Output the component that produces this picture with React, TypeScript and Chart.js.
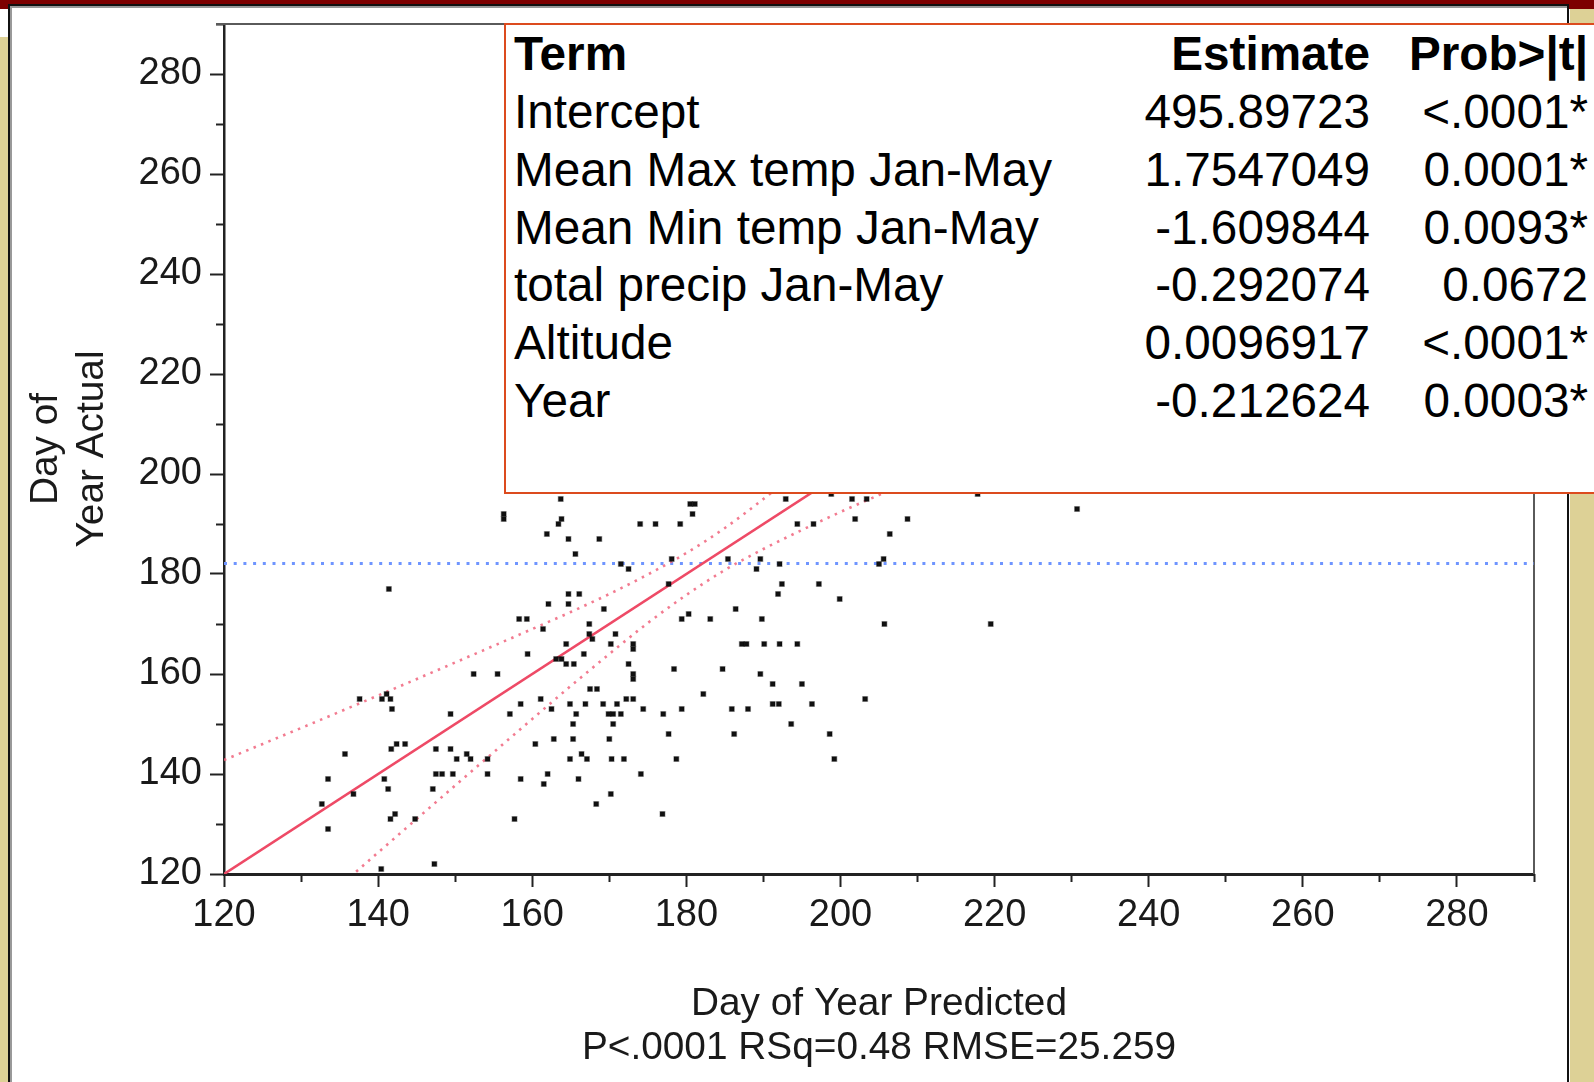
import React, { useEffect, useRef } from 'react';
import { Chart, registerables } from 'chart.js';

Chart.register(...registerables);

// ---------- data ----------
const predictedX = [
  156.3, 156.3, 163.7, 163.8, 163.4, 161.9, 164.7, 168.7, 165.6, 171.5,
  172.5, 174.0, 176.0, 179.2, 180.5, 181.1, 180.8, 178.1, 177.7, 179.4,
  180.3, 141.4, 164.7, 166.1, 164.7, 162.1, 169.3, 158.3, 159.3, 161.4,
  167.4, 167.4, 167.8, 170.8, 170.2, 173.1, 164.4, 173.1, 159.4, 163.1,
  163.8, 164.4, 165.4, 166.7, 172.5, 173.1, 173.1, 152.4, 155.5, 178.4,
  137.6, 140.5, 141.1, 141.6, 141.8, 161.1, 172.2, 173.1, 167.5, 168.4,
  158.5, 164.9, 166.9, 169.2, 171.0, 162.5, 174.4, 179.4, 149.4, 157.1,
  165.7, 169.9, 170.5, 171.5, 177.0, 165.3, 170.5, 177.7, 142.4, 143.5,
  141.7, 147.5, 149.4, 162.8, 165.3, 170.0, 160.4, 135.7, 150.2, 151.5,
  152.0, 154.2, 164.9, 166.4, 167.1, 170.3, 171.9, 178.7, 133.5, 140.8,
  141.3, 147.5, 148.3, 149.7, 154.2, 162.0, 174.1, 158.5, 166.0, 161.5,
  136.8, 147.1, 170.2, 132.7, 168.3, 141.6, 142.2, 144.8, 133.5, 157.7,
  176.9, 140.4, 147.3, 185.4, 189.1, 189.6, 192.1, 192.9, 194.4, 196.5,
  198.8, 201.5, 201.9, 203.4, 206.4, 208.7, 205.0, 205.6, 217.8, 230.7,
  219.5, 205.7, 192.4, 191.9, 197.2, 199.9, 186.4, 189.8, 183.1, 187.2,
  187.8, 190.1, 192.1, 194.4, 184.7, 189.6, 191.2, 195.0, 182.2, 191.2,
  192.0, 196.3, 203.2, 185.9, 188.0, 193.6, 186.2, 198.6, 199.2,
];
const actualY = [
  192, 191, 195, 191, 190, 188, 187, 187, 184, 182,
  181, 190, 190, 190, 194, 194, 192, 183, 178, 171,
  172, 177, 176, 176, 174, 174, 173, 171, 171, 169,
  170, 168, 167, 168, 166, 166, 166, 165, 164, 163,
  163, 162, 162, 164, 162, 160, 159, 160, 160, 161,
  155, 155, 156, 155, 153, 155, 155, 155, 157, 157,
  154, 154, 154, 154, 154, 153, 153, 153, 152, 152,
  152, 152, 152, 152, 152, 150, 150, 148, 146, 146,
  145, 145, 145, 147, 147, 147, 146, 144, 143, 144,
  143, 143, 143, 144, 143, 143, 143, 143, 139, 139,
  137, 140, 140, 140, 140, 140, 140, 139, 139, 138,
  136, 137, 136, 134, 134, 131, 132, 131, 129, 131,
  132, 121, 122, 183, 181, 183, 182, 195, 190, 190,
  196, 195, 191, 195, 188, 191, 182, 183, 196, 193,
  170, 170, 178, 176, 178, 175, 173, 171, 171, 166,
  166, 166, 166, 166, 161, 160, 158, 158, 156, 154,
  154, 154, 155, 153, 153, 150, 148, 148, 143,
];

const fitLineX = [120, 290];
const fitLineY = [120, 290];

const bandX = [120, 130, 140, 150, 160, 165, 170, 175, 180, 185, 190, 195, 200, 205, 210, 220, 230, 240, 250, 260, 270, 280, 290];
const bandUpper = [142.8, 149.2, 155.7, 162.3, 169.0, 172.4, 176.0, 179.9, 184.2, 189.2, 195.0, 201.2, 207.6, 214.2, 220.8, 234.2, 247.7, 261.2, 274.8, 288.3, 301.9, 315.5, 329.0];
const bandLower = [97.2, 110.8, 124.3, 137.7, 151.0, 157.6, 164.0, 170.2, 175.8, 180.8, 185.0, 188.8, 192.4, 195.8, 199.2, 205.8, 212.3, 218.8, 225.3, 231.7, 238.1, 244.6, 251.0];

const meanActual = 182.1;
const meanLineX = [120, 290];

const axisMin = 120;
const axisMax = 290;
const majorTicks = [120, 140, 160, 180, 200, 220, 240, 260, 280];
const minorTicks = [130, 150, 170, 190, 210, 230, 250, 270, 290];

const xTitle = ['Day of Year Predicted', 'P<.0001 RSq=0.48 RMSE=25.259'];
const yTitle = ['Day of', 'Year Actual'];

const termHeader = ['Term', 'Estimate', 'Prob>|t|'];
const termNames = ['Intercept', 'Mean Max temp Jan-May', 'Mean Min temp Jan-May', 'total precip Jan-May', 'Altitude', 'Year'];
const termEstimates = ['495.89723', '1.7547049', '-1.609844', '-0.292074', '0.0096917', '-0.212624'];
const termProbs = ['<.0001*', '0.0001*', '0.0093*', '0.0672', '<.0001*', '0.0003*'];

// ---------- styles ----------
const FONT = "'Liberation Sans', Arial, Helvetica, sans-serif";
const MAROON = '#7d0000';
const TAN = '#ddd196';
const BOX_RED = '#dc4b1e';

const framePlugin = {
  id: 'frameLines',
  beforeDatasetsDraw(chart: any) {
    const { ctx, chartArea: a } = chart;
    ctx.save();
    ctx.strokeStyle = '#5a5a5a';
    ctx.lineWidth = 2;
    ctx.beginPath();
    ctx.moveTo(a.left - 8, a.top);
    ctx.lineTo(a.right, a.top);
    ctx.lineTo(a.right, a.bottom);
    ctx.stroke();
    ctx.restore();
  },
};

const noPad = (s: any) => {
  s.paddingTop = 0;
  s.paddingBottom = 0;
  s.paddingLeft = 0;
  s.paddingRight = 0;
};

export default function App() {
  const ref = useRef<HTMLCanvasElement>(null);

  useEffect(() => {
    if (!ref.current) return;
    const pts = predictedX.map((x, i) => ({ x, y: actualY[i] }));
    const fit = fitLineX.map((x, i) => ({ x, y: fitLineY[i] }));
    const up = bandX.map((x, i) => ({ x, y: bandUpper[i] }));
    const lo = bandX.map((x, i) => ({ x, y: bandLower[i] }));
    const mean = meanLineX.map((x) => ({ x, y: meanActual }));

    const tickFont = { family: FONT, size: 38 };

    const chart = new Chart(ref.current, {
      type: 'scatter',
      data: {
        datasets: [
          {
            label: 'Actual',
            data: pts,
            pointStyle: 'rect',
            pointRadius: 3.4,
            backgroundColor: '#111',
            borderColor: 'rgba(0,0,0,0.3)',
            borderWidth: 1.3,
          },
          {
            label: 'Fit',
            data: fit,
            showLine: true,
            pointRadius: 0,
            borderColor: '#ee4a66',
            borderWidth: 2.6,
          },
          {
            label: 'Upper',
            data: up,
            showLine: true,
            pointRadius: 0,
            borderColor: 'rgba(240,100,125,0.85)',
            borderWidth: 2.6,
            borderDash: [2.5, 5.5],
            cubicInterpolationMode: 'monotone',
          },
          {
            label: 'Lower',
            data: lo,
            showLine: true,
            pointRadius: 0,
            borderColor: 'rgba(240,100,125,0.85)',
            borderWidth: 2.6,
            borderDash: [2.5, 5.5],
            cubicInterpolationMode: 'monotone',
          },
          {
            label: 'Mean',
            data: mean,
            showLine: true,
            pointRadius: 0,
            borderColor: '#6f95ff',
            borderWidth: 3,
            borderDash: [3, 6.7],
          },
        ],
      },
      options: {
        responsive: false,
        maintainAspectRatio: false,
        devicePixelRatio: 1,
        animation: false,
        events: [],
        layout: { padding: { left: 0, top: 24, right: 60, bottom: 0 } },
        plugins: {
          legend: { display: false },
          tooltip: { enabled: false },
          title: { display: false },
        },
        scales: {
          x: {
            type: 'linear',
            position: 'bottom',
            weight: 1,
            min: axisMin,
            max: axisMax,
            afterBuildTicks: (s: any) => {
              s.ticks = majorTicks.map((v) => ({ value: v }));
            },
            afterFit: (s: any) => {
              s.height = 208;
              noPad(s);
            },
            ticks: { autoSkip: false, maxRotation: 0, padding: 6, color: '#1a1a1a', font: tickFont },
            grid: { drawOnChartArea: false, drawTicks: true, tickLength: 13, tickColor: '#222', tickWidth: 2 },
            border: { display: true, color: '#222', width: 3 },
            title: {
              display: true,
              text: xTitle,
              color: '#1a1a1a',
              font: { family: FONT, size: 38.8, lineHeight: 1.134 },
              padding: { top: 0, bottom: 12 },
            },
          },
          xMinor: {
            type: 'linear',
            position: 'bottom',
            weight: 0,
            min: axisMin,
            max: axisMax,
            afterBuildTicks: (s: any) => {
              s.ticks = minorTicks.map((v) => ({ value: v }));
            },
            afterFit: (s: any) => {
              s.height = 0;
              noPad(s);
            },
            ticks: { display: false },
            grid: { drawOnChartArea: false, drawTicks: true, tickLength: 8, tickColor: '#222', tickWidth: 2 },
            border: { display: false },
          },
          y: {
            type: 'linear',
            position: 'left',
            weight: 1,
            min: axisMin,
            max: axisMax,
            afterBuildTicks: (s: any) => {
              s.ticks = majorTicks.map((v) => ({ value: v }));
            },
            afterFit: (s: any) => {
              s.width = 224;
              noPad(s);
            },
            ticks: { autoSkip: false, padding: 8, color: '#1a1a1a', font: tickFont },
            grid: { drawOnChartArea: false, drawTicks: true, tickLength: 14, tickColor: '#222', tickWidth: 2 },
            border: { display: true, color: '#222', width: 2.5 },
            title: {
              display: true,
              text: yTitle,
              color: '#1a1a1a',
              font: { family: FONT, size: 38.8, lineHeight: 1.204 },
              padding: { top: 22.5, bottom: 0 },
            },
          },
          yMinor: {
            type: 'linear',
            position: 'left',
            weight: 0,
            min: axisMin,
            max: axisMax,
            afterBuildTicks: (s: any) => {
              s.ticks = minorTicks.map((v) => ({ value: v }));
            },
            afterFit: (s: any) => {
              s.width = 0;
              noPad(s);
            },
            ticks: { display: false },
            grid: { drawOnChartArea: false, drawTicks: true, tickLength: 8, tickColor: '#222', tickWidth: 2 },
            border: { display: false },
          },
        },
      } as any,
      plugins: [framePlugin],
    });
    return () => chart.destroy();
  }, []);

  const abs = (s: React.CSSProperties): React.CSSProperties => ({ position: 'absolute', ...s });
  const TEXT_SIZE = 47.7;
  const ascentPx = TEXT_SIZE * 0.8465;
  const headerBase = 70.5;
  const rowBase = (i: number) => 128.5 + 57.75 * i;
  const textStyle = (baseline: number, bold: boolean): React.CSSProperties => ({
    position: 'absolute',
    top: baseline - ascentPx,
    fontFamily: FONT,
    fontSize: TEXT_SIZE,
    lineHeight: `${TEXT_SIZE}px`,
    fontWeight: bold ? 700 : 400,
    color: '#000',
    whiteSpace: 'nowrap',
    zIndex: 3,
  });
  const termLeft = 514;
  const estRight = 1594 - 1370;
  const probRight = 1594 - 1588;

  return (
    <div
      style={{
        position: 'fixed',
        left: 0,
        top: 0,
        width: 1594,
        height: 1082,
        overflow: 'hidden',
        background: '#fff',
      }}
    >
      {/* frame decorations */}
      <div style={abs({ left: 0, top: 0, width: 1594, height: 4, background: MAROON })} />
      <div style={abs({ left: 0, top: 0, width: 8, height: 9, background: MAROON })} />
      <div style={abs({ left: 1569, top: 0, width: 25, height: 9, background: MAROON })} />
      <div style={abs({ left: 0, top: 37, width: 8, height: 1045, background: TAN })} />
      <div style={abs({ left: 1570, top: 9, width: 24, height: 1073, background: TAN })} />
      <div style={abs({ left: 8, top: 4, width: 2, height: 1078, background: '#111' })} />
      <div style={abs({ left: 10, top: 6, width: 1.5, height: 1076, background: '#999' })} />
      <div style={abs({ left: 8, top: 4, width: 1561, height: 2, background: '#111' })} />
      <div style={abs({ left: 10, top: 6, width: 1557, height: 1.5, background: '#999' })} />
      <div style={abs({ left: 1567, top: 4, width: 2, height: 1078, background: '#111' })} />

      <canvas
        ref={ref}
        width={1594}
        height={1082}
        style={{ position: 'absolute', left: 0, top: 0, width: 1594, height: 1082, zIndex: 1 }}
      />

      {/* parameter estimates table */}
      <div
        style={abs({
          left: 504,
          top: 23,
          width: 1200,
          height: 467,
          border: `2.5px solid ${BOX_RED}`,
          background: '#fff',
          zIndex: 2,
        })}
      />
      <div style={{ ...textStyle(headerBase, true), left: termLeft }}>{termHeader[0]}</div>
      <div style={{ ...textStyle(headerBase, true), right: estRight, textAlign: 'right' }}>{termHeader[1]}</div>
      <div style={{ ...textStyle(headerBase, true), right: probRight, textAlign: 'right' }}>{termHeader[2]}</div>
      {termNames.map((n, i) => (
        <React.Fragment key={n}>
          <div style={{ ...textStyle(rowBase(i), false), left: termLeft }}>{n}</div>
          <div style={{ ...textStyle(rowBase(i), false), right: estRight, textAlign: 'right' }}>{termEstimates[i]}</div>
          <div style={{ ...textStyle(rowBase(i), false), right: probRight, textAlign: 'right' }}>{termProbs[i]}</div>
        </React.Fragment>
      ))}
    </div>
  );
}
